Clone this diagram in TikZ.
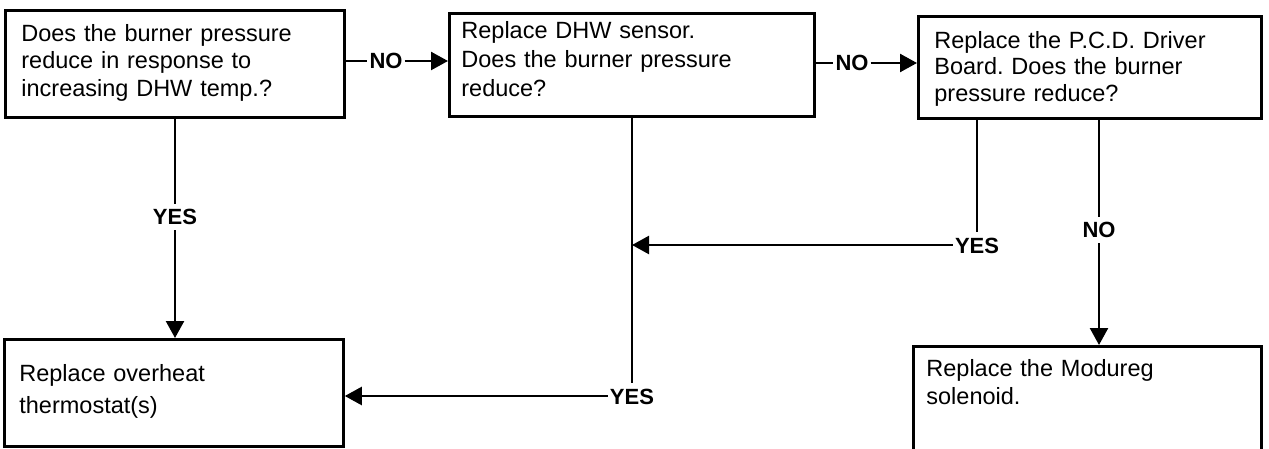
\documentclass[tikz,border=0pt]{standalone}
\usepackage{fontspec}
\setmainfont{Liberation Sans}
\frenchspacing
\usetikzlibrary{arrows.meta}
\begin{document}
\begin{tikzpicture}[x=1pt,y=-1pt,
  box/.style={draw, line width=2.8pt, inner ysep=0pt, align=left, anchor=north west},
  lbl/.style={font=\bfseries\fontsize{22}{22}\selectfont, inner xsep=2pt, inner ysep=5pt, text height=16pt, text depth=0pt},
  line/.style={line width=2.4pt},
  arr/.style={line width=2.4pt, -{Triangle[length=17pt,width=18pt]}}]
\useasboundingbox (0,0) rectangle (1269,449);
% boxes
\node[box, inner xsep=16pt, text width=307pt, text height=31pt, text depth=76pt,
  font=\fontsize{23.5}{27.5}\selectfont] (b1) at (4,9)
  {Does the burner pressure\\reduce in response to\\increasing DHW temp.?};
\node[box, inner xsep=12pt, text width=341pt, text height=25pt, text depth=78pt,
  font=\fontsize{23.5}{29}\selectfont] (b2) at (448,12)
  {Replace DHW sensor.\\Does the burner pressure\\reduce?};
\node[box, inner xsep=16pt, text width=311pt, text height=32pt, text depth=70pt,
  font=\fontsize{23.5}{26.5}\selectfont] (b3) at (917,15)
  {Replace the P.C.D. Driver\\Board. Does the burner\\pressure reduce?};
\node[box, inner xsep=15pt, text width=309pt, text height=42pt, text depth=65pt,
  font=\fontsize{23.5}{32}\selectfont] (b4) at (3,338)
  {Replace overheat\\thermostat(s)};
\node[box, inner xsep=13pt, text width=322pt, text height=30pt, text depth=110pt,
  font=\fontsize{23.5}{28}\selectfont] (b5) at (912,345)
  {Replace the Modureg\\solenoid.};
% labels
\node[lbl] (n1) at (386,61) {NO};
\node[lbl] (n2) at (852,63) {NO};
\node[lbl] (y1) at (175,217) {YES};
\node[lbl] (y2) at (632,396) {YES};
\node[lbl] (y3) at (977,245) {YES};
\node[lbl] (n3) at (1099,230) {NO};
% connectors
\draw[line] (b1.east |- n1) -- (n1.west);
\draw[arr] (n1.east) -- (n1.east -| b2.west);
\draw[line] (b2.east |- n2) -- (n2.west);
\draw[arr] (n2.east) -- (n2.east -| b3.west);
\draw[line] (b1.south -| y1) -- (y1.north);
\draw[arr] (y1.south) -- (y1 |- b4.north);
\draw[line] (b2.south -| y2) -- (y2.north);
\draw[arr] (y2.west) -- (y2.west -| b4.east);
\draw[line] (b3.south -| y3) -- (y3.north);
\draw[arr] (y3.west) -- (y3.west -| y2);
\draw[line] (b3.south -| n3) -- (n3.north);
\draw[arr] (n3.south) -- (n3 |- b5.north);
\end{tikzpicture}
\end{document}
